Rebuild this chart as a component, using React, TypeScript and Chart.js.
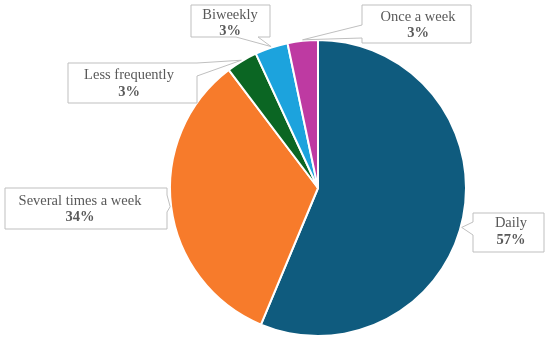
import React, { useEffect, useRef } from "react";
import { Chart, registerables } from "chart.js";

Chart.register(...registerables);

const categories = ["Daily", "Several times a week", "Less frequently", "Biweekly", "Once a week"];
const shares = [56.3, 33.4, 3.4, 3.6, 3.3];
const shownLabels = ["57%", "34%", "3%", "3%", "3%"];
const sliceColors = ["#0F5B7E", "#F77B2B", "#0B6623", "#1CA3DD", "#BE3AA2"];

// callout layout: box rect, wedge side and base, text centre, tip angle shift (deg)
const calloutLayout = [
  { box: [473, 213, 544, 252], side: "left", base: [222, 235], cx: 511, y1: 223, y2: 240, shift: 4 },
  { box: [5, 188, 167, 229], side: "right", base: [195, 212], cx: 80, y1: 201, y2: 217, shift: 0 },
  { box: [68, 63, 197, 103], side: "right", base: [63, 76], cx: 129, y1: 75, y2: 92, shift: 0 },
  { box: [191, 5, 270, 37], side: "bottom", base: [236, 258], cx: 230, y1: 15, y2: 31, shift: 0 },
  { box: [362, 5, 471, 43], side: "left", base: [25, 38], cx: 418, y1: 17, y2: 33, shift: 0 },
];

const FONT = "'Liberation Serif', 'Times New Roman', serif";

const calloutPlugin = {
  id: "callouts",
  afterDatasetsDraw(chart: any) {
    const ctx = chart.ctx;
    const meta = chart.getDatasetMeta(0);
    meta.data.forEach((arc: any, i: number) => {
      const L = calloutLayout[i];
      if (!L) return;
      const p = arc.getProps(["x", "y", "startAngle", "endAngle", "outerRadius"], true);
      const a = (p.startAngle + p.endAngle) / 2 + (L.shift * Math.PI) / 180;
      const r = p.outerRadius + 1;
      const tx = p.x + Math.cos(a) * r;
      const ty = p.y + Math.sin(a) * r;
      const [x0, y0, x1, y1] = L.box;
      const [b0, b1] = L.base;
      ctx.save();
      ctx.beginPath();
      ctx.moveTo(x0, y0);
      ctx.lineTo(x1, y0);
      if (L.side === "right") {
        ctx.lineTo(x1, b0);
        ctx.lineTo(tx, ty);
        ctx.lineTo(x1, b1);
      }
      ctx.lineTo(x1, y1);
      if (L.side === "bottom") {
        ctx.lineTo(b1, y1);
        ctx.lineTo(tx, ty);
        ctx.lineTo(b0, y1);
      }
      ctx.lineTo(x0, y1);
      if (L.side === "left") {
        ctx.lineTo(x0, b1);
        ctx.lineTo(tx, ty);
        ctx.lineTo(x0, b0);
      }
      ctx.closePath();
      ctx.fillStyle = "#FFFFFF";
      ctx.fill();
      ctx.lineWidth = 1;
      ctx.strokeStyle = "#BFBFBF";
      ctx.stroke();
      ctx.fillStyle = "#595959";
      ctx.textAlign = "center";
      ctx.textBaseline = "middle";
      ctx.font = `14.5px ${FONT}`;
      ctx.fillText(categories[i], L.cx, L.y1);
      ctx.font = `bold 14.5px ${FONT}`;
      ctx.fillText(shownLabels[i], L.cx, L.y2);
      ctx.restore();
    });
  },
};

export default function App() {
  const ref = useRef<HTMLCanvasElement | null>(null);
  useEffect(() => {
    if (!ref.current) return;
    const chart = new Chart(ref.current, {
      type: "pie",
      data: {
        labels: categories,
        datasets: [
          {
            data: shares,
            backgroundColor: sliceColors,
            borderColor: "#FFFFFF",
            borderWidth: 2,
            hoverOffset: 0,
          },
        ],
      },
      options: {
        responsive: false,
        animation: false,
        events: [],
        layout: { padding: { left: 169, right: 83, top: 39, bottom: 14 } },
        plugins: { legend: { display: false }, tooltip: { enabled: false } },
      },
      plugins: [calloutPlugin],
    });
    return () => chart.destroy();
  }, []);
  return (
    <div style={{ position: "absolute", left: 0, top: 0, width: 550, height: 351, background: "#fff" }}>
      <canvas ref={ref} width={550} height={351} />
    </div>
  );
}
